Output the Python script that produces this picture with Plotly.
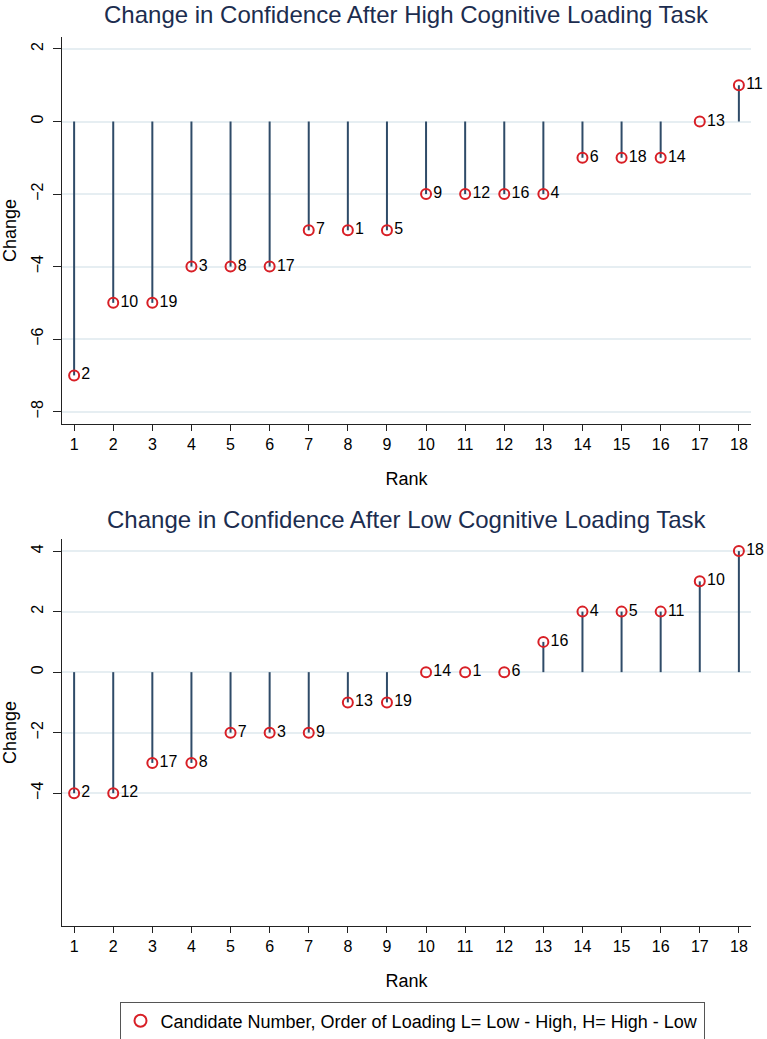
import plotly.graph_objects as go

rank = list(range(1, 19))
high_change = [-7, -5, -5, -4, -4, -4, -3, -3, -3, -2, -2, -2, -2, -1, -1, -1, 0, 1]
high_cand = [2, 10, 19, 3, 8, 17, 7, 1, 5, 9, 12, 16, 4, 6, 18, 14, 13, 11]
low_change = [-4, -4, -3, -3, -2, -2, -2, -1, -1, 0, 0, 0, 1, 2, 2, 2, 3, 4]
low_cand = [2, 12, 17, 8, 7, 3, 9, 13, 19, 14, 1, 6, 16, 4, 5, 11, 10, 18]

titles = ["Change in Confidence After High Cognitive Loading Task",
          "Change in Confidence After Low Cognitive Loading Task"]
legend_name = "Candidate Number, Order of Loading L= Low - High, H= High - Low"

W, H = 767, 1039
L, R = 62, 751
STEM = "#2f4b68"
RED = "#d81f26"
NAVY = "#1c2d4f"
GRID = "#e6eef2"
FONT = "Liberation Sans, Arial, sans-serif"

fig = go.Figure()

def stems(xs, ys):
    sx, sy = [], []
    for x, y in zip(xs, ys):
        sx += [x, x, None]
        sy += [0, y, None]
    return sx, sy

panels = [
    (high_change, high_cand, "x", "y", (424, 37), [-8.34, 2.33], [-8, -6, -4, -2, 0, 2], True, 15),
    (low_change, low_cand, "x2", "y2", (926, 539), [-8.39, 4.4], [-4, -2, 0, 2, 4], False, 519),
]

for i, (vals, cands, xa, ya, (pb, pt), yr, yt, showleg, ty) in enumerate(panels):
    ydom = [1 - pb / H, 1 - pt / H]
    sx, sy = stems(rank, vals)
    fig.add_trace(go.Scatter(x=sx, y=sy, mode="lines", xaxis=xa, yaxis=ya,
                             line=dict(color=STEM, width=2), showlegend=False,
                             hoverinfo="skip"))
    fig.add_trace(go.Scatter(x=rank, y=vals, mode="markers+text", xaxis=xa, yaxis=ya,
                             text=[str(c) for c in cands], textposition="middle right",
                             textfont=dict(family=FONT, size=16, color="black"),
                             marker=dict(symbol="circle-open", size=10, color=RED,
                                         line=dict(width=2, color=RED)),
                             cliponaxis=False,
                             name=legend_name, showlegend=showleg))
    suffix = "" if i == 0 else "2"
    fig.update_layout(**{
        "xaxis" + suffix: dict(domain=[0, 1], range=[0.69, 18.31], anchor="y" + suffix,
                               tickvals=rank, ticks="outside", ticklen=6, tickcolor="#222",
                               showline=True, linecolor="#222", linewidth=1,
                               showgrid=False, zeroline=False, automargin=False,
                               tickfont=dict(family=FONT, size=16, color="black"),
                               title=dict(text="Rank", standoff=20,
                                          font=dict(family=FONT, size=18, color="black"))),
        "yaxis" + suffix: dict(domain=ydom, range=yr, anchor="x" + suffix,
                               tickvals=yt, ticks="outside", ticklen=8, tickcolor="#222",
                               showline=True, linecolor="#222", linewidth=1,
                               showgrid=True, gridcolor=GRID, gridwidth=1.5,
                               zeroline=False, tickangle=-90, automargin=False,
                               ticklabelstandoff=4,
                               tickfont=dict(family=FONT, size=16, color="black"),
                               title=dict(text="Change", standoff=10,
                                          font=dict(family=FONT, size=18, color="black"))),
    })
    fig.add_annotation(text=titles[i], xref="paper", yref="paper",
                       x=0.5, y=1 - ty / H,
                       xanchor="center", yanchor="middle", showarrow=False,
                       font=dict(family=FONT, size=24, color=NAVY))

fig.update_layout(
    width=W, height=H,
    margin=dict(l=L, r=W - R, t=0, b=0, autoexpand=False),
    plot_bgcolor="white", paper_bgcolor="white",
    showlegend=True,
    legend=dict(orientation="h", x=(412 - L) / (R - L), xanchor="center",
                y=1 - 1021 / H, yanchor="middle",
                bordercolor="#555", borderwidth=1, bgcolor="white",
                font=dict(family=FONT, size=18, color="black"),
                itemsizing="constant"),
)

fig.write_html("out.html", config={"displayModeBar": False},
               post_script="document.body.style.margin='0px';")
